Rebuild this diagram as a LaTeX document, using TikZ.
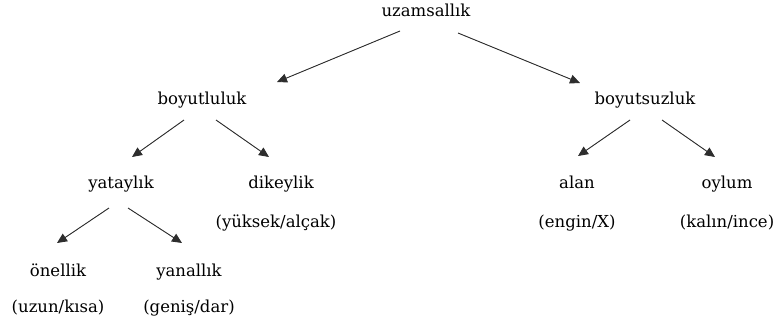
\documentclass[tikz,border=0pt]{standalone}
\usepackage{fontspec}
\setmainfont{DejaVu Serif}
\usetikzlibrary{arrows.meta,positioning,calc}
\definecolor{lineC}{RGB}{45,45,45}
\tikzset{
  term/.style={font=\fontsize{16.5}{18}\selectfont, inner sep=0pt, text height=12pt, text depth=3.5pt},
  arr/.style={-{Triangle[length=10pt,width=9pt]}, line width=0.9pt, draw=lineC, fill=black},
}
\begin{document}
\begin{tikzpicture}[x=1pt, y=-1pt, on grid]
  \useasboundingbox (0,0) rectangle (778,322);
  % levels of the tree
  \node[term] (root) at (426,12) {uzamsallık};
  \node[term, below left=88pt and 224pt of root] (boyutlu) {boyutluluk};
  \node[term, below right=88pt and 219pt of root] (boyutsuz) {boyutsuzluk};
  \node[term, below left=84pt and 81pt of boyutlu] (yatay) {yataylık};
  \node[term, below right=84pt and 79pt of boyutlu] (dikey) {dikeylik};
  \node[term, below left=84pt and 68pt of boyutsuz] (alan) {alan};
  \node[term, below right=84pt and 82pt of boyutsuz] (oylum) {oylum};
  \node[term, below left=88pt and 63pt of yatay] (onel) {önellik};
  \node[term, below right=88pt and 68pt of yatay] (yanal) {yanallık};
  % pairs under the leaves
  \node[term, below left=39pt and 5pt of dikey] (dikeyP) {(yüksek/alçak)};
  \node[term, below=39pt of alan] (alanP) {(engin/X)};
  \node[term, below=39pt of oylum] (oylumP) {(kalın/ince)};
  \node[term, below=36pt of onel] (onelP) {(uzun/kısa)};
  \node[term, below=36pt of yanal] (yanalP) {(geniş/dar)};
  % arrows
  \draw[arr] ($(root)+(-26,19)$) -- ($(boyutlu)+(75,-18)$);
  \draw[arr] ($(root)+(32,21)$) -- ($(boyutsuz)+(-65,-17)$);
  \draw[arr] ($(boyutlu)+(-18,20)$) -- ($(yatay)+(11,-27)$);
  \draw[arr] ($(boyutlu)+(14,20)$) -- ($(dikey)+(-12,-27)$);
  \draw[arr] ($(boyutsuz)+(-15,20)$) -- ($(alan)+(1,-28)$);
  \draw[arr] ($(boyutsuz)+(17,20)$) -- ($(oylum)+(-12,-27)$);
  \draw[arr] ($(yatay)+(-12,24)$) -- ($(onel)+(-1,-29)$);
  \draw[arr] ($(yatay)+(7,24)$) -- ($(yanal)+(-7,-29)$);
\end{tikzpicture}
\end{document}
